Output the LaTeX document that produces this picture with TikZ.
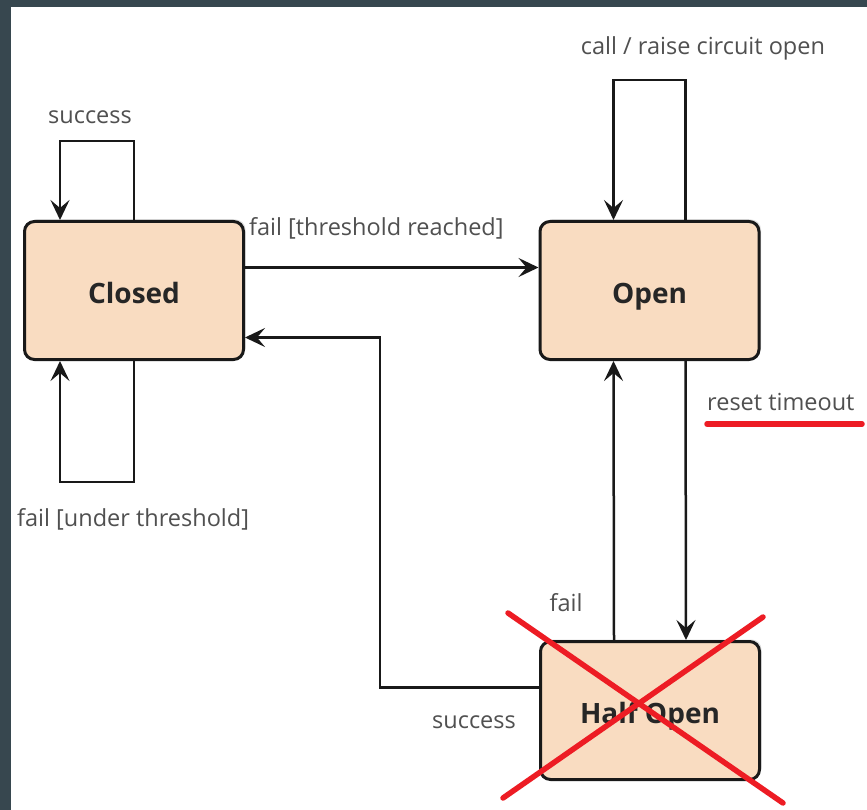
\documentclass[tikz,border=0pt]{standalone}
\usepackage{fontspec}
\setmainfont{Open Sans}
\usetikzlibrary{arrows.meta,positioning,shadows}

\definecolor{framegray}{HTML}{37474F}
\definecolor{statefill}{HTML}{F9DCC1}
\definecolor{labelgray}{HTML}{505050}
\definecolor{markred}{HTML}{ED1C24}

\tikzset{
  state/.style={draw=black!90, line width=3, fill=statefill, rounded corners=10,
    minimum width=219, minimum height=138, inner sep=0,
    text height=26, text depth=0,
    font=\fontsize{28}{33}\selectfont\bfseries, text=black!85,
    drop shadow={shadow xshift=2, shadow yshift=-2, opacity=0.25}},
  lbl/.style={inner sep=0, font=\fontsize{23.5}{28}\selectfont, text=labelgray},
  flow/.style={draw=black!90, line width=2.5, -{Stealth[length=20,width=19,inset=8]}},
  redmark/.style={draw=markred, line width=5.5, line cap=round}
}

\begin{document}
\begin{tikzpicture}[x=1pt,y=-1pt]
  \useasboundingbox (0,0) rectangle (867,810);
  \fill[framegray] (0,0) rectangle (867,810);
  \fill[white] (11,7) rectangle (867,810);

  % states
  \node[state] (closed) at (134,290.5) {Closed};
  \node[state] (open) at (649.5,290.5) {Open};
  \node[state] (halfopen) at (650,710.5) {Half Open};

  % transitions
  \draw[flow] (closed.north) -- ++(0,-79) -| ([xshift=-74]closed.north);
  \draw[flow] (closed.south) -- ++(0,121) -| ([xshift=-74]closed.south);
  \draw[flow] ([yshift=23]closed.east) -- ([yshift=23]open.west);
  \draw[flow] ([xshift=36]open.north) -- ++(0,-140) -| ([xshift=-36]open.north);
  \draw[flow] ([xshift=36]open.south) -- ([xshift=36]halfopen.north);
  \draw[flow] ([xshift=-36]halfopen.north) -- ([xshift=-36]open.south);
  \draw[flow] ([yshift=23]halfopen.west) -- ++(-159,0) |- ([yshift=-47]closed.east);

  % labels
  \node[lbl] (lsuccess) at (90,117) {success};
  \node[lbl, anchor=west] (lreached) at (249,228) {fail [threshold reached]};
  \node[lbl] (lraise) at (703,48) {call / raise circuit open};
  \node[lbl, anchor=west] (lreset) at (707,402) {reset timeout};
  \node[lbl, anchor=west] (lunder) at (17,519) {fail [under threshold]};
  \node[lbl] (lfail) at (566,603) {fail};
  \node[lbl] (lhalfsuccess) at (474,722) {success};

  % red marks
  \draw[redmark] (707,424) -- (862,424);
  \draw[redmark] (508,613) -- (783,803);
  \draw[redmark] (763,617) -- (503,798);
\end{tikzpicture}
\end{document}
